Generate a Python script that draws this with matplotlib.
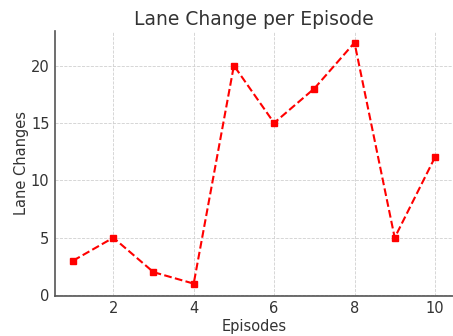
import matplotlib.pyplot as plt

# Дані
episodes = [1, 2, 3, 4, 5, 6, 7, 8, 9, 10]
lane_changes = [3, 5, 2, 1, 20, 15, 18, 22, 5, 12]

text_color = '#333333'

fig = plt.figure(figsize=(4.53, 3.36), dpi=100)
ax = fig.add_axes([0.1214, 0.12, 0.8786, 0.789])

ax.plot(episodes, lane_changes, color='red', linestyle='--', marker='s',
        markersize=5, linewidth=1.5)

ax.set_title('Lane Change per Episode', fontsize=13.5, color=text_color, pad=4)
ax.set_xlabel('Episodes', fontsize=10.5, color=text_color, labelpad=2)
ax.set_ylabel('Lane Changes', fontsize=10.5, color=text_color, labelpad=1)
ax.set_xticks([2, 4, 6, 8, 10])
ax.set_yticks([0, 5, 10, 15, 20])
ax.tick_params(length=0, labelsize=10.5, labelcolor=text_color, pad=4)

ax.grid(True, linestyle='--', color='#d0d0d0', linewidth=0.6)
for side in ['top', 'right']:
    ax.spines[side].set_visible(False)
for side in ['left', 'bottom']:
    ax.spines[side].set_color('#555555')
    ax.spines[side].set_linewidth(1.2)

fig.savefig('out.png', dpi=100)
